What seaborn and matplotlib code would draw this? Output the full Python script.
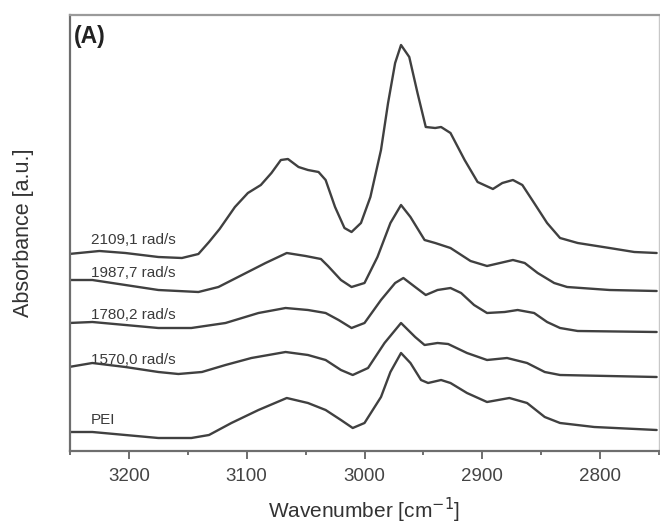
import numpy as np
import pandas as pd
import matplotlib
matplotlib.use("Agg")
import matplotlib.pyplot as plt
import seaborn as sns
from matplotlib.ticker import MultipleLocator

# ---- data (arbitrary absorbance units incl. vertical offsets) ----
labels = ["2109,1 rad/s", "1987,7 rad/s", "1780,2 rad/s", "1570,0 rad/s", "PEI"]

wn_2109 = [3251, 3225, 3203, 3175, 3155, 3141, 3132, 3123, 3110, 3099, 3088, 3079, 3071, 3065,
           3056, 3048, 3039, 3033, 3025, 3017, 3011, 3003, 2995, 2986, 2980, 2974, 2969, 2962,
           2955, 2948, 2940, 2935, 2927, 2915, 2904, 2891, 2883, 2874, 2866, 2856, 2845, 2834,
           2819, 2792, 2771, 2752]
ab_2109 = [197, 200, 198, 194, 193, 197, 209, 222, 244, 258, 266, 278, 291, 292,
           284, 281, 279, 271, 244, 223, 219, 228, 254, 301, 348, 388, 406, 394,
           358, 324, 323, 324, 318, 291, 269, 262, 268, 271, 266, 248, 228, 213,
           208, 203, 199, 198]

wn_1987 = [3251, 3231, 3203, 3175, 3141, 3124, 3104, 3084, 3066, 3050, 3037, 3031, 3020, 3011,
           3000, 2989, 2978, 2969, 2961, 2949, 2940, 2927, 2910, 2896, 2885, 2874, 2864, 2853,
           2839, 2828, 2792, 2752]
ab_1987 = [171, 171, 166, 161, 159, 164, 176, 188, 198, 195, 192, 185, 171, 164,
           168, 194, 228, 246, 234, 211, 208, 203, 190, 185, 188, 191, 188, 178,
           168, 164, 161, 160]

wn_1780 = [3251, 3231, 3203, 3175, 3147, 3118, 3090, 3067, 3048, 3033, 3022, 3011, 3000, 2986,
           2974, 2967, 2957, 2948, 2938, 2927, 2918, 2907, 2896, 2881, 2870, 2856, 2845, 2834,
           2819, 2752]
ab_1780 = [128, 129, 126, 123, 123, 128, 138, 143, 141, 138, 131, 123, 128, 151,
           168, 173, 164, 156, 161, 163, 158, 146, 138, 139, 141, 138, 129, 123,
           120, 119]

wn_1570 = [3251, 3231, 3203, 3175, 3158, 3138, 3118, 3096, 3067, 3048, 3033, 3020, 3010, 2997,
           2983, 2969, 2957, 2949, 2938, 2929, 2913, 2896, 2879, 2862, 2847, 2834, 2752]
ab_1570 = [84, 88, 84, 79, 77, 79, 86, 93, 99, 96, 91, 81, 76, 83,
           108, 128, 114, 106, 108, 107, 98, 91, 93, 88, 79, 76, 74]

wn_pei = [3251, 3231, 3203, 3175, 3147, 3132, 3113, 3090, 3066, 3048, 3033, 3020, 3010, 3000,
          2986, 2978, 2969, 2961, 2952, 2946, 2935, 2927, 2913, 2896, 2877, 2862, 2847, 2834,
          2805, 2752]
ab_pei = [19, 19, 16, 13, 13, 16, 28, 41, 53, 48, 41, 31, 23, 28,
          54, 79, 98, 88, 71, 68, 71, 68, 58, 49, 53, 48, 34, 28,
          24, 21]

label_y = [211, 178, 136, 91, 31]
xticks = [3200, 3100, 3000, 2900, 2800]

series = [(wn_2109, ab_2109), (wn_1987, ab_1987), (wn_1780, ab_1780), (wn_1570, ab_1570), (wn_pei, ab_pei)]
frames = []
for lab, (w, a) in zip(labels, series):
    frames.append(pd.DataFrame({"wavenumber": w, "absorbance": a, "sample": lab}))
df = pd.concat(frames, ignore_index=True)

# ---- plot ----
sns.set_theme(style="white")
plt.rcParams["font.family"] = ["Liberation Sans", "DejaVu Sans"]

fig = plt.figure(figsize=(6.6, 5.31), dpi=100)
ax = fig.add_axes([70 / 660, 1 - 451 / 531, 589 / 660, 436 / 531])

line_color = "#404040"
sns.lineplot(data=df, x="wavenumber", y="absorbance", hue="sample", units="sample",
             estimator=None, sort=False, palette=[line_color] * len(labels),
             linewidth=1.7, legend=False, ax=ax)
for ln in ax.get_lines():
    ln.set_solid_joinstyle("round")
    ln.set_solid_capstyle("round")

for lab, ly in zip(labels, label_y):
    ax.text(3232, ly, lab, fontsize=11, color="#3a3a3a", ha="left", va="center")

ax.text(3247, 426, "(A)", fontsize=16.5, fontweight="bold", color="#222222", ha="left", va="top")

ax.set_xlim(3250, 2750)
ax.set_ylim(0, 436)
ax.set_xticks(xticks)
ax.xaxis.set_minor_locator(MultipleLocator(50))
ax.set_yticks([])
ax.tick_params(axis="x", which="major", direction="out", length=6, width=1.2, pad=6,
               colors="#555555", labelsize=13.5, labelcolor="#444444", bottom=True)
ax.tick_params(axis="x", which="minor", direction="out", length=3, width=1.2,
               colors="#555555", bottom=True)

ax.set_xlabel("Wavenumber [cm$^{-1}$]", fontsize=15, color="#333333", labelpad=8)
ax.set_ylabel("Absorbance [a.u.]", fontsize=15.5, color="#333333", labelpad=26)

for side, sp in ax.spines.items():
    sp.set_visible(True)
    sp.set_color("#6e6e6e")
    sp.set_linewidth(1.6)
ax.spines["top"].set_color("#9a9a9a")
ax.spines["right"].set_color("#c8c8c8")
ax.spines["right"].set_linewidth(1.0)

fig.savefig("out.png", dpi=100)
